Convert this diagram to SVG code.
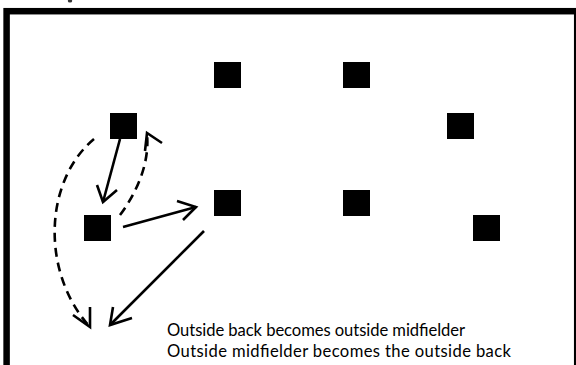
<svg xmlns="http://www.w3.org/2000/svg" width="576" height="365" viewBox="0 0 576 365">
  <style>
    .player { fill: #000; }
    .solid { fill: none; stroke: #000; stroke-width: 2.6; }
    .dashed { fill: none; stroke: #000; stroke-width: 2.6; stroke-dasharray: 9 6; }
    .head { fill: none; stroke: #000; stroke-width: 2.6; stroke-linejoin: miter; }
    .caption { font-family: Lato, "Open Sans", "Liberation Sans", sans-serif; font-size: 16.6px; fill: #000; }
  </style>

  <rect width="576" height="365" fill="#fff"/>

  <!-- field boundary -->
  <rect id="field" x="6.6" y="11.2" width="570.6" height="380" fill="none" stroke="#000" stroke-width="6.5"/>
  <ellipse cx="70" cy="1" rx="2.2" ry="1.6" fill="#333"/>

  <!-- players -->
  <g id="outside-back"><rect class="player" x="110" y="113" width="27" height="26"/></g>
  <g id="outside-mid"><rect class="player" x="84" y="215" width="27" height="26"/></g>
  <g id="player-c"><rect class="player" x="214" y="62" width="27" height="26"/></g>
  <g id="player-d"><rect class="player" x="343" y="62" width="27" height="26"/></g>
  <g id="player-e"><rect class="player" x="447" y="113" width="27" height="26"/></g>
  <g id="player-f"><rect class="player" x="214" y="190" width="27" height="26"/></g>
  <g id="player-g"><rect class="player" x="343" y="190" width="27" height="26"/></g>
  <g id="player-h"><rect class="player" x="473" y="215" width="27" height="26"/></g>

  <!-- movement arrows -->
  <g id="connectors">
    <!-- back drops to midfielder spot -->
    <line class="solid" x1="120" y1="139" x2="103" y2="202"/>
    <polyline class="head" points="97,185 103,202 117,190"/>

    <!-- midfielder overlaps up the line -->
    <path class="dashed" d="M120,215 C135,195 150,165 147,134"/>
    <polyline class="head" points="145,151 147,133 162,143"/>

    <!-- pass into midfield -->
    <line class="solid" x1="123" y1="227" x2="196" y2="207"/>
    <polyline class="head" points="177,201 196,207 183,220"/>

    <!-- wide run down the flank -->
    <path class="dashed" d="M94,139 C45,180 40,270 89,326"/>
    <polyline class="head" points="73,315 90,327 90,307"/>

    <!-- ball played back to the flank -->
    <line class="solid" x1="204" y1="231" x2="111" y2="324"/>
    <polyline class="head" points="113,307 110,325 132,318"/>
  </g>

  <text class="caption" x="167" y="335.5" textLength="298" lengthAdjust="spacing">Outside back becomes outside midfielder</text>
  <text class="caption" x="167" y="356.5" textLength="344" lengthAdjust="spacing">Outside midfielder becomes the outside back</text>
</svg>
